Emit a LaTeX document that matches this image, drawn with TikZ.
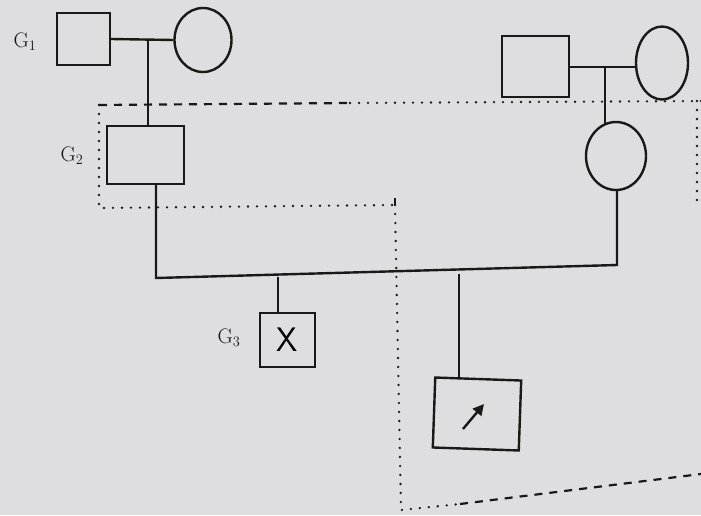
\documentclass[tikz,border=0pt]{standalone}
\usetikzlibrary{shapes.geometric,arrows.meta}
\definecolor{paper}{RGB}{222,222,224}
\definecolor{ink}{RGB}{25,25,25}
\begin{document}
\begin{tikzpicture}[x=1pt,y=-1pt,
  line/.style={draw=ink,line width=2.4pt},
  malebox/.style={draw=ink,line width=2.4pt,rectangle,inner sep=0pt},
  femaleshape/.style={draw=ink,line width=2.4pt,ellipse,inner sep=0pt},
  genlabel/.style={text=ink,font=\fontsize{21}{24}\selectfont},
  dotline/.style={draw=ink,line width=2.6pt,line cap=round,dash pattern=on 0pt off 9pt},
  dashline/.style={draw=ink,line width=2.2pt,dash pattern=on 8pt off 7pt}]
\fill[paper] (0,0) rectangle (701,515);
\useasboundingbox (0,0) rectangle (701,515);
% generation labels
\node[genlabel] (g1) at (25,42) {G$_1$};
\node[genlabel] (g2) at (72,156) {G$_2$};
\node[genlabel] (g3) at (229,338) {G$_3$};
% G1 left couple
\node[malebox,minimum width=53pt,minimum height=52pt] (m1) at (83.5,39) {};
\node[femaleshape,minimum width=57pt,minimum height=64pt] (f1) at (203,40) {};
\coordinate (c1) at (148,40);
\draw[line] (m1.east) -- (f1.west);
% G2 male
\node[malebox,minimum width=77pt,minimum height=58pt] (m2) at (145.5,155) {};
\draw[line] (c1) -- (m2.north -| c1);
% G1 right couple
\node[malebox,minimum width=67pt,minimum height=61pt] (m3) at (535.5,66.5) {};
\node[femaleshape,minimum width=52pt,minimum height=73pt] (f3) at (662,63) {};
\coordinate (c3) at (605,67);
\draw[line] (m3.east |- c3) -- (f3.west |- c3);
% G2 female
\node[femaleshape,minimum width=60pt,minimum height=68pt] (f2) at (616,156) {};
\draw[line] (c3) -- (605,124);
% G2 marriage line
\coordinate (ml) at (156,278);
\coordinate (mr) at (617,265);
\draw[line] (156,184) -- (ml) -- (mr) -- (f2.south -| mr);
% G3 children
\node[malebox,minimum width=55pt,minimum height=54pt] (k1) at (287.5,340) {\fontsize{34}{34}\selectfont\sffamily X};
\node[malebox,minimum width=86pt,minimum height=70pt,rotate=-2] (k2) at (477,414) {};
\coordinate (d1) at (278,277);
\coordinate (d2) at (459,274);
\draw[line] (d1) -- (k1.north -| d1);
\draw[line] (d2) -- (459,379);
\coordinate (a0) at (463,429);
\coordinate (a1) at (484,404);
\draw[line,-{Triangle[length=11pt,width=11pt]}] (a0) -- (a1);
% boundary
\coordinate (b1) at (99,105);
\coordinate (b2) at (701,101);
\coordinate (b3) at (99,208);
\coordinate (b4) at (395,205);
\coordinate (b5) at (395,198);
\coordinate (b6) at (401,510);
\coordinate (b7) at (701,474);
\coordinate (b8) at (697,101);
\coordinate (b9) at (697,200);
\draw[dashline] (b1) -- (350,103);
\draw[dotline] (350,103) -- (b2);
\draw[dotline] (b1) -- (b3) -- (b4);
\draw[line,line width=2pt] (b5) -- (b4);
\draw[dotline] (b4) -- (b6) -- (460,504);
\draw[dashline] (460,504) -- (b7);
\draw[dotline] (b8) -- (b9);
\end{tikzpicture}
\end{document}
